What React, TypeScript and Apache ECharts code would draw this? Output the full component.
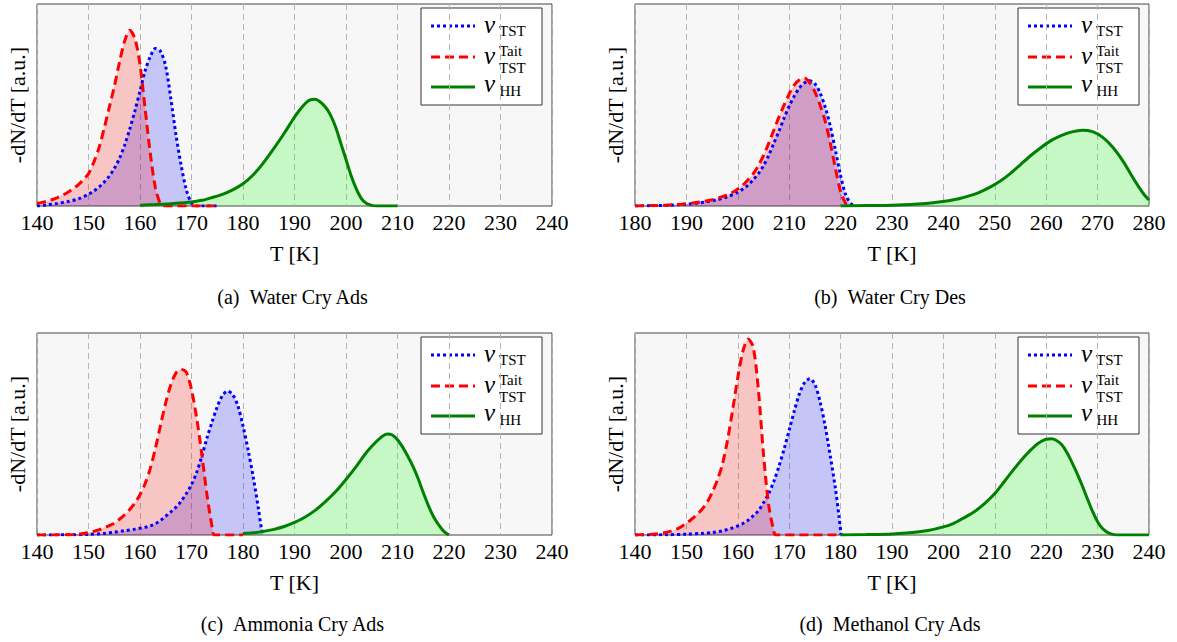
import React, { useEffect, useRef } from "react";
import * as echarts from "echarts";

// ---- data (x = T [K], y = -dN/dT in arbitrary units, fraction of panel height) ----
const tstA = [[140,0],[142,0.006],[144,0.013],[146,0.022],[148,0.035],[150,0.058],[151,0.074],[152,0.093],[153,0.117],[154,0.147],[155,0.185],[156,0.235],[157,0.3],[158,0.38],[159,0.47],[160,0.57],[161,0.67],[162,0.74],[163,0.78],[164,0.765],[165,0.69],[166,0.53],[167,0.35],[168,0.2],[169,0.08],[170,0.015],[171,0],[175,0]];
const taitA = [[140,0.013],[141,0.018],[142,0.024],[143,0.032],[144,0.042],[145,0.054],[146,0.068],[147,0.085],[148,0.105],[149,0.13],[150,0.16],[151,0.215],[152,0.285],[153,0.38],[154,0.485],[155,0.59],[156,0.71],[157,0.815],[158,0.87],[159,0.83],[160,0.7],[161,0.48],[162,0.26],[163,0.09],[164,0.01],[165,0],[175,0]];
const hhA = [[160,0.004],[163,0.007],[166,0.011],[169,0.017],[172,0.028],[174,0.042],[176,0.058],[178,0.08],[180,0.11],[182,0.155],[184,0.215],[186,0.285],[188,0.36],[190,0.44],[191,0.475],[192,0.505],[193,0.525],[194,0.528],[195,0.515],[196,0.49],[197,0.45],[198,0.39],[199,0.31],[200,0.23],[201,0.15],[202,0.085],[203,0.037],[204,0.012],[205,0.003],[206,0],[210,0]];

const tstB = [[180,0],[184,0.002],[187,0.004],[190,0.009],[192,0.014],[194,0.021],[196,0.031],[198,0.046],[200,0.068],[201,0.084],[202,0.104],[203,0.13],[204,0.16],[205,0.2],[206,0.25],[207,0.31],[208,0.37],[209,0.435],[210,0.495],[211,0.545],[212,0.585],[213,0.61],[214,0.62],[215,0.605],[216,0.56],[217,0.49],[218,0.395],[219,0.275],[220,0.15],[221,0.055],[222,0.012],[223,0]];
const taitB = [[180,0],[183,0.002],[186,0.004],[189,0.009],[191,0.014],[193,0.021],[195,0.031],[197,0.046],[199,0.068],[200,0.084],[201,0.104],[202,0.13],[203,0.16],[204,0.2],[205,0.25],[206,0.31],[207,0.375],[208,0.44],[209,0.5],[210,0.555],[211,0.6],[212,0.625],[213,0.632],[214,0.61],[215,0.565],[216,0.5],[217,0.42],[218,0.31],[219,0.185],[220,0.07],[221,0.012],[221.5,0]];
const hhB = [[220,0],[225,0.002],[230,0.004],[235,0.01],[238,0.016],[241,0.026],[243,0.036],[245,0.05],[247,0.068],[249,0.092],[251,0.122],[253,0.16],[255,0.205],[257,0.25],[259,0.29],[261,0.325],[263,0.35],[265,0.367],[267,0.375],[269,0.368],[271,0.34],[273,0.29],[275,0.22],[277,0.135],[278,0.095],[279,0.058],[280,0.03]];

const tstC = [[140,0],[146,0.001],[150,0.003],[153,0.008],[155,0.014],[157,0.021],[159,0.029],[161,0.038],[162,0.045],[163,0.056],[164,0.072],[165,0.093],[166,0.115],[167,0.138],[168,0.168],[169,0.205],[170,0.25],[171,0.31],[172,0.39],[173,0.48],[174,0.56],[175,0.635],[176,0.69],[177,0.712],[178,0.695],[179,0.64],[180,0.54],[181,0.42],[182,0.285],[183,0.13],[183.6,0.03],[184,0]];
const taitC = [[140,0],[144,0.001],[147,0.003],[149,0.007],[150,0.012],[151,0.018],[152,0.025],[153,0.035],[154,0.046],[155,0.058],[156,0.078],[157,0.1],[158,0.126],[159,0.158],[160,0.2],[161,0.255],[162,0.33],[163,0.43],[164,0.545],[165,0.655],[166,0.745],[167,0.803],[168,0.82],[169,0.805],[170,0.72],[171,0.58],[172,0.4],[173,0.2],[174,0.04],[174.5,0],[180,0]];
const hhC = [[180,0.007],[182,0.011],[184,0.018],[186,0.028],[188,0.042],[190,0.062],[192,0.088],[194,0.122],[196,0.165],[198,0.215],[200,0.275],[202,0.34],[204,0.41],[206,0.465],[207,0.488],[208,0.5],[209,0.495],[210,0.472],[211,0.435],[212,0.39],[213,0.34],[214,0.28],[215,0.21],[216,0.145],[217,0.09],[218,0.05],[219,0.018],[220,0]];

const tstD = [[140,0],[146,0.001],[150,0.004],[153,0.008],[155,0.012],[157,0.02],[158,0.028],[159,0.035],[160,0.045],[161,0.057],[162,0.073],[163,0.095],[164,0.12],[165,0.16],[166,0.205],[167,0.265],[168,0.34],[169,0.425],[170,0.52],[171,0.615],[172,0.7],[173,0.755],[174,0.774],[175,0.745],[176,0.66],[177,0.54],[178,0.39],[179,0.23],[179.7,0.09],[180.1,0]];
const taitD = [[140,0],[142,0.002],[144,0.005],[145,0.008],[146,0.012],[147,0.019],[148,0.028],[149,0.041],[150,0.058],[151,0.078],[152,0.1],[153,0.126],[154,0.16],[155,0.21],[156,0.27],[157,0.35],[158,0.47],[159,0.62],[160,0.78],[161,0.91],[162,0.97],[163,0.93],[164,0.72],[165,0.4],[166,0.15],[167,0.02],[167.4,0],[180,0]];
const hhD = [[180,0],[185,0.002],[190,0.005],[194,0.012],[197,0.022],[200,0.04],[202,0.058],[204,0.085],[206,0.115],[208,0.155],[210,0.205],[212,0.27],[214,0.335],[216,0.395],[218,0.445],[219,0.463],[220,0.474],[221,0.476],[222,0.468],[223,0.448],[224,0.41],[225,0.36],[226,0.305],[227,0.245],[228,0.18],[229,0.118],[230,0.066],[231,0.031],[232,0.012],[233,0.003],[234,0],[240,0]];

const xRangeA = [140, 240];
const xRangeB = [180, 280];
const xRangeC = [140, 240];
const xRangeD = [140, 240];

const captions = ["(a)\u2002Water Cry Ads", "(b)\u2002Water Cry Des", "(c)\u2002Ammonia Cry Ads", "(d)\u2002Methanol Cry Ads"];
const xName = "T [K]";
const yName = "-dN/dT [a.u.]";
const legendSymbol = "\u03bd";
const legendSubs = ["TST", "TST", "HH"];
const legendSup = "Tait";

// ---- layout ----
const FONT = '"Liberation Serif", "Times New Roman", "DejaVu Serif", serif';
const layout = [
  { left: 37, top: 4, width: 515, height: 202, capY: 297 },
  { left: 635, top: 4, width: 514, height: 202, capY: 297 },
  { left: 37, top: 333, width: 515, height: 202, capY: 624 },
  { left: 635, top: 333, width: 514, height: 202, capY: 624 },
];

const BLUE = "#0000ff";
const RED = "#ff0000";
const GREEN = "#008000";

function legendGroup(x: number, y: number) {
  const small = (text: string, tx: number, ty: number) => ({
    type: "text", x: tx, y: ty,
    style: { text, fontSize: 15, fontFamily: FONT, fill: "#000", align: "left", verticalAlign: "middle" },
  });
  const nu = (ty: number) => ({
    type: "text", x: 63, y: ty,
    style: { text: legendSymbol, fontSize: 25, fontStyle: "italic", fontFamily: FONT, fill: "#000", align: "left", verticalAlign: "middle" },
  });
  return {
    type: "group", x, y, silent: true,
    children: [
      { type: "rect", shape: { x: 0, y: 0, width: 121, height: 97 }, style: { fill: "#ffffff", stroke: "#333", lineWidth: 1 } },
      { type: "line", shape: { x1: 10, y1: 18, x2: 54, y2: 18 }, style: { stroke: BLUE, lineWidth: 3, lineDash: [3, 3] } },
      { type: "line", shape: { x1: 10, y1: 49, x2: 54, y2: 49 }, style: { stroke: RED, lineWidth: 3, lineDash: [9, 5] } },
      { type: "line", shape: { x1: 10, y1: 79, x2: 54, y2: 79 }, style: { stroke: GREEN, lineWidth: 3 } },
      nu(16.6), small(legendSubs[0], 78, 22.9),
      small(legendSup, 78, 42.6), nu(47.6), small(legendSubs[1], 78, 60),
      nu(75.6), small(legendSubs[2], 78.5, 82.5),
    ],
  };
}

export default function App() {
  const ref = useRef<HTMLDivElement>(null);
  useEffect(() => {
    if (!ref.current) return;
    const chart = echarts.init(ref.current, null, { renderer: "svg" });
    const panels = [
      { range: xRangeA, tst: tstA, tait: taitA, hh: hhA },
      { range: xRangeB, tst: tstB, tait: taitB, hh: hhB },
      { range: xRangeC, tst: tstC, tait: taitC, hh: hhC },
      { range: xRangeD, tst: tstD, tait: taitD, hh: hhD },
    ];
    const grid: any[] = [];
    const xAxis: any[] = [];
    const yAxis: any[] = [];
    const series: any[] = [];
    const graphic: any[] = [];
    panels.forEach((p, i) => {
      const L = layout[i];
      grid.push({
        left: L.left, top: L.top, width: L.width, height: L.height,
        show: true, backgroundColor: "#f7f7f7", borderColor: "#444", borderWidth: 1,
      });
      xAxis.push({
        type: "value", gridIndex: i, min: p.range[0], max: p.range[1], interval: 10,
        axisLine: { show: false }, axisTick: { show: false },
        axisLabel: { fontSize: 22, fontFamily: FONT, color: "#000", margin: 5 },
        splitLine: { show: true, lineStyle: { color: "#b4b4b4", width: 1, type: [6, 4] } },
        name: xName, nameLocation: "middle", nameGap: 36,
        nameTextStyle: { fontSize: 22, fontFamily: FONT, color: "#000" },
      });
      yAxis.push({
        type: "value", gridIndex: i, min: 0, max: 1,
        axisLine: { show: false }, axisTick: { show: false }, axisLabel: { show: false },
        splitLine: { show: false },
        name: yName, nameLocation: "middle", nameGap: 9,
        nameTextStyle: { fontSize: 22, fontFamily: FONT, color: "#000" },
      });
      const mk = (data: number[][], color: string, dash: any, fill: string) => ({
        type: "line", xAxisIndex: i, yAxisIndex: i, data,
        smooth: 0.3, showSymbol: false, symbol: "none",
        lineStyle: { color, width: 3, type: dash, cap: "butt" },
        areaStyle: { color: fill, opacity: 1 },
        silent: true,
      });
      series.push(mk(p.tst, BLUE, [3, 3], "rgba(0,0,255,0.2)"));
      series.push(mk(p.tait, RED, [9, 5], "rgba(255,0,0,0.2)"));
      series.push(mk(p.hh, GREEN, "solid", "rgba(0,255,0,0.2)"));
      graphic.push(legendGroup(L.left + L.width - 131, L.top + 4));
      graphic.push({
        type: "text", x: L.left + L.width / 2 - 2, y: L.capY,
        style: { text: captions[i], fontSize: 20, fontFamily: FONT, fill: "#000", align: "center", verticalAlign: "middle" },
      });
    });
    chart.setOption({
      animation: false,
      backgroundColor: "#ffffff",
      grid, xAxis, yAxis, series, graphic,
    });
    return () => chart.dispose();
  }, []);
  return <div ref={ref} style={{ position: "fixed", left: 0, top: 0, width: 1177, height: 642 }} />;
}
